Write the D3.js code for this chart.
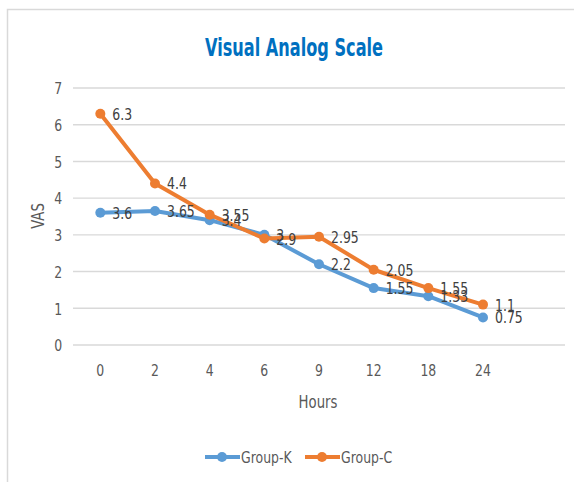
<!DOCTYPE html>
<html><head><meta charset="utf-8">
<script src="https://cdn.jsdelivr.net/npm/d3@7"></script>
<style>body{margin:0;background:#fff}svg{display:block}</style>
</head><body>
<script>
const hours = ["0","2","4","6","9","12","18","24"];
const groupK = [3.6, 3.65, 3.4, 3, 2.2, 1.55, 1.33, 0.75];
const groupC = [6.3, 4.4, 3.55, 2.9, 2.95, 2.05, 1.55, 1.1];
const yTicks = [0,1,2,3,4,5,6,7];
const seriesNames = ["Group-K","Group-C"];
const colors = ["#5B9BD5","#ED7D31"];

const W=574,H=482;
const font = "'DejaVu Sans',sans-serif";
const SX = 0.78; // horizontal condensing to mimic a narrow font
const svg = d3.select("body").append("svg").attr("width",W).attr("height",H);
svg.append("rect").attr("width",W).attr("height",H).attr("fill","#fff");
svg.append("rect").attr("x",7.5).attr("y",9.5).attr("width",600).attr("height",500)
  .attr("fill","none").attr("stroke","#D9D9D9").attr("stroke-width",1.5);

const gx0=73, gx1=565;
// 9 equal slots across the plot, the last one empty
const x = d3.scaleBand().domain(hours).range([gx0, gx0+(gx1-gx0)*8/9]);
const y = d3.scaleLinear().domain([0,7]).range([345,88]);
const cx = h => x(h)+x.bandwidth()/2;

function ctext(g, tx, ty, txt, size, fill, anchor){
  return g.append("text").attr("transform",`translate(${tx},${ty}) scale(${SX},1)`)
    .attr("text-anchor",anchor||"start").attr("font-family",font).attr("font-size",size)
    .attr("fill",fill).text(txt);
}

svg.append("text").attr("x",294).attr("y",56).attr("text-anchor","middle")
  .attr("font-family",font).attr("font-weight","bold").attr("font-size",25)
  .attr("textLength",178).attr("lengthAdjust","spacingAndGlyphs")
  .attr("fill","#0070C0").text("Visual Analog Scale");

// grid
svg.append("g").selectAll("line").data(yTicks).join("line")
  .attr("x1",gx0).attr("x2",gx1).attr("y1",d=>y(d)).attr("y2",d=>y(d))
  .attr("stroke","#D9D9D9").attr("stroke-width",1.4);

// y axis
const ya = svg.append("g").attr("transform",`translate(${gx0},0)`)
  .call(d3.axisLeft(y).tickValues(yTicks).tickFormat(d3.format("d")).tickSize(0).tickPadding(14));
ya.select(".domain").remove();
ya.selectAll("text").attr("font-family",font).attr("font-size",16).attr("fill","#595959")
  .attr("dy","0.36em").attr("transform",`scale(${SX},1)`);

// x axis
const xa = svg.append("g").attr("transform",`translate(0,${y(0)})`)
  .call(d3.axisBottom(x).tickSize(0).tickPadding(20));
xa.select(".domain").remove();
xa.selectAll("text").attr("font-family",font).attr("font-size",16).attr("fill","#595959")
  .attr("transform",`scale(${SX},1)`);

const vas = svg.append("text").attr("transform",`translate(44,216) rotate(-90) scale(${SX},1)`)
  .attr("text-anchor","middle").attr("font-family",font).attr("font-size",17)
  .attr("fill","#595959").text("VAS");
ctext(svg, 318, 408, "Hours", 17, "#595959", "middle");

const series = [groupK, groupC];
const line = d3.line().x((d,i)=>cx(hours[i])).y(d=>y(d));
series.forEach((s,k)=>{
  const g = svg.append("g");
  g.append("path").attr("d",line(s)).attr("fill","none").attr("stroke",colors[k])
    .attr("stroke-width",4).attr("stroke-linejoin","round");
  g.selectAll("circle").data(s).join("circle")
    .attr("cx",(d,i)=>cx(hours[i])).attr("cy",d=>y(d)).attr("r",5)
    .attr("fill",colors[k]);
});
series.forEach((s,k)=>{
  const g = svg.append("g");
  s.forEach((d,i)=>ctext(g, cx(hours[i])+12, y(d)+6, d, 16, "#404040"));
});

// legend
const lg = [205,305];
seriesNames.forEach((n,k)=>{
  const g = svg.append("g");
  g.append("line").attr("x1",lg[k]).attr("x2",lg[k]+35).attr("y1",457).attr("y2",457)
    .attr("stroke",colors[k]).attr("stroke-width",4);
  g.append("circle").attr("cx",lg[k]+17).attr("cy",457).attr("r",5).attr("fill",colors[k]);
  ctext(g, lg[k]+36, 463, n, 16, "#595959");
});
</script>
</body></html>
